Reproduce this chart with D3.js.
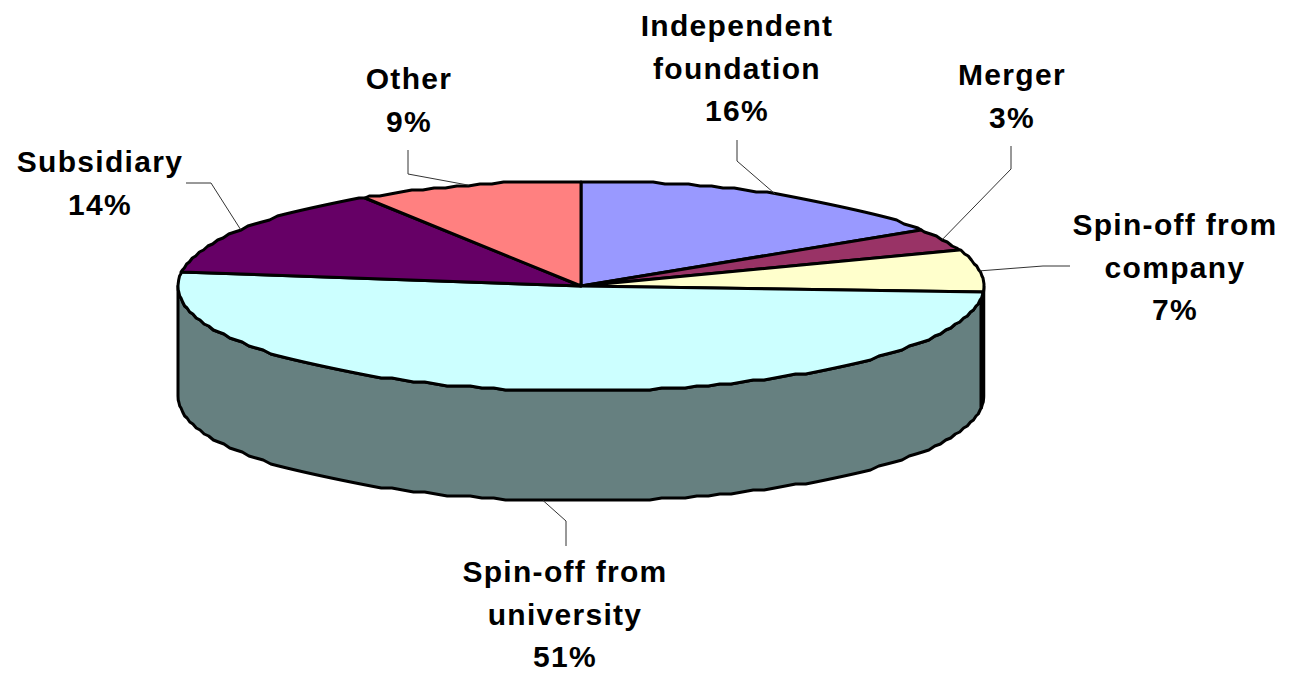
<!DOCTYPE html>
<html>
<head>
<meta charset="utf-8">
<script src="https://cdn.jsdelivr.net/npm/d3@7"></script>
<style>
    html, body { margin: 0; padding: 0; background: #fff; }
    text {
        font-family: "Liberation Sans", Arial, sans-serif;
        font-weight: bold;
        font-size: 30px;
        letter-spacing: 1.3px;
        fill: #000;
        text-anchor: middle;
    }
</style>
</head>
<body>
<div id="chart"></div>
<script>
// chart values, clockwise from 12 o'clock (angles, labels are rounded)
const categories = ['Independent foundation', 'Merger', 'Spin-off from company',
    'Spin-off from university', 'Subsidiary', 'Other'];
const shares = [16, 3.4, 6.6, 51, 14, 9];
const sliceColors = ['#9999ff', '#993366', '#ffffcc', '#ccffff', '#660066', '#ff8080'];

// label text, one row per line
const labelLines = [
    ['Independent', 'foundation', '16%'],
    ['Merger', '3%'],
    ['Spin-off from', 'company', '7%'],
    ['Spin-off from', 'university', '51%'],
    ['Subsidiary', '14%'],
    ['Other', '9%']
];

// where each label sits, and the elbow of its leader line
const labelLayout = [
    {x: 737, y: 36, elbow: [737, 161], end: [737, 140]},
    {x: 1012, y: 85, elbow: [1011, 169], end: [1011, 146]},
    {x: 1175, y: 235, elbow: [1043, 266], end: [1070, 266]},
    {x: 565, y: 582, elbow: [566, 521], end: [566, 546]},
    {x: 100, y: 172, elbow: [211, 183], end: [186, 183]},
    {x: 409, y: 89, elbow: [408, 174], end: [408, 150]}
];

const width = 1293;
const height = 674;
const lineGap = 42.6;
const depth = 110;
const wallColor = '#668080';
const shadowAngle = 97 * Math.PI / 180;   // the black sliver on the right side of the wall
const rimStep = 0.03;                     // the outline of the original is slightly stepped
const rimSnap = 2;

const svg = d3.select('#chart').append('svg')
    .attr('width', width)
    .attr('height', height);

// tilted pie: unit circle squashed into an ellipse
const x = d3.scaleLinear().domain([-1, 1]).range([178, 984]);
const y = d3.scaleLinear().domain([-1, 1]).range([181, 391]);

const rimX = a => x(Math.sin(a));
const rimY = a => y(-Math.cos(a));
const steppedY = a => Math.round(rimY(a) / rimSnap) * rimSnap;

const arcs = d3.pie().sort(null).value(d => d)(shares);

// sample on one shared grid so neighbouring slices follow the same outline
function rimPoints(a0, a1) {
    const inner = d3.range(Math.ceil(a0 / rimStep), Math.floor(a1 / rimStep) + 1)
        .map(k => k * rimStep)
        .filter(a => a > a0 && a < a1);
    return [a0].concat(inner, [a1]);
}

const line = d3.line();

function wallPath(a0, a1) {
    const top = rimPoints(a0, a1).map(a => [rimX(a), steppedY(a)]);
    const bottom = rimPoints(a0, a1).reverse().map(a => [rimX(a), steppedY(a) + depth]);
    return line(top.concat(bottom)) + 'Z';
}

function slicePath(d) {
    const pts = rimPoints(d.startAngle, d.endAngle).map(a => [rimX(a), steppedY(a)]);
    return line([[x(0), y(0)]].concat(pts)) + 'Z';
}

// side wall, only the university slice shows at the front
svg.append('path')
    .attr('d', wallPath(Math.PI / 2, shadowAngle))
    .attr('fill', '#000')
    .attr('stroke', '#000')
    .attr('stroke-width', 2.5);

svg.append('path')
    .attr('d', wallPath(shadowAngle, Math.PI * 1.5))
    .attr('fill', wallColor)
    .attr('stroke', '#000')
    .attr('stroke-width', 3)
    .attr('stroke-linejoin', 'round');

// top of the pie
svg.selectAll('path.slice')
    .data(arcs)
    .enter()
    .append('path')
    .attr('class', 'slice')
    .attr('d', slicePath)
    .attr('fill', (d, i) => sliceColors[i])
    .attr('stroke', '#000')
    .attr('stroke-width', 3)
    .attr('stroke-linejoin', 'round');

// leader lines start from the middle of each slice's rim
svg.selectAll('path.leader')
    .data(arcs)
    .enter()
    .append('path')
    .attr('class', 'leader')
    .attr('fill', 'none')
    .attr('stroke', '#333')
    .attr('stroke-width', 1)
    .attr('d', (d, i) => {
        const mid = (d.startAngle + d.endAngle) / 2;
        const front = mid > Math.PI / 2 && mid < Math.PI * 1.5;
        const start = [rimX(mid), rimY(mid) + (front ? depth : 0)];
        return line([start, labelLayout[i].elbow, labelLayout[i].end]);
    });

// labels
const labels = svg.selectAll('text.label')
    .data(categories)
    .enter()
    .append('text')
    .attr('class', 'label')
    .attr('y', (d, i) => labelLayout[i].y);

labels.selectAll('tspan')
    .data((d, i) => labelLines[i].map(t => ({t: t, i: i})))
    .enter()
    .append('tspan')
    .attr('x', d => labelLayout[d.i].x)
    .attr('dy', (d, j) => j == 0 ? 0 : lineGap)
    .text(d => d.t);
</script>
</body>
</html>
